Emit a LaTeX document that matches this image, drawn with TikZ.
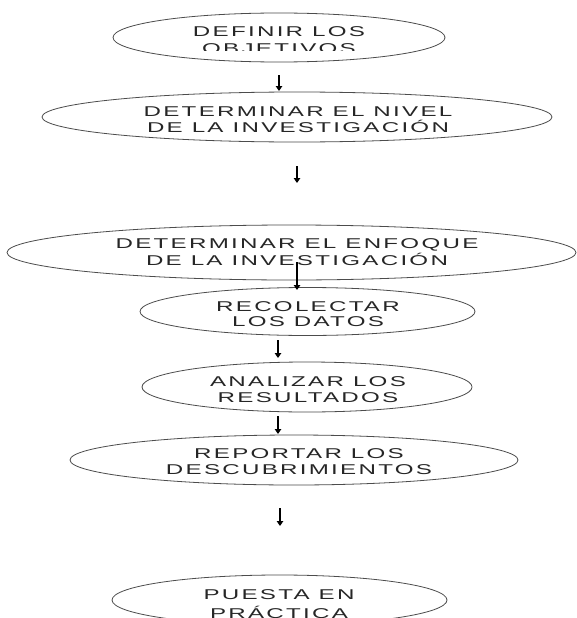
\documentclass[tikz,border=0pt]{standalone}
\usepackage{fontspec}
\setmainfont[FakeStretch=1.7,LetterSpace=16]{Liberation Sans}
\usetikzlibrary{arrows.meta,shapes.geometric}

\begin{document}
\begin{tikzpicture}[x=1pt,y=-1pt,
  stepellipse/.style={draw=black!70, line width=0.8pt, ellipse, inner sep=0pt},
  steptext/.style={align=center, text=black!85, inner sep=0pt,
    font=\fontsize{14.2}{15.5}\selectfont},
  flow/.style={draw=black, line width=1.2pt, -{Triangle[length=5pt,width=6.5pt]}}]
\useasboundingbox (0,0) rectangle (577,618);
\clip (0,0) rectangle (577,618);
\fill[white] (0,0) rectangle (577,618);

% process steps
\node[stepellipse, minimum width=332pt, minimum height=49pt] (e1) at (279,37.5) {};
\node[stepellipse, minimum width=510pt, minimum height=50pt] (e2) at (297,117) {};
\node[stepellipse, minimum width=569pt, minimum height=55pt] (e3) at (291.5,252.5) {};
\node[stepellipse, minimum width=335pt, minimum height=48pt] (e4) at (307.5,311.5) {};
\node[stepellipse, minimum width=330pt, minimum height=50pt] (e5) at (307,387) {};
\node[stepellipse, minimum width=448pt, minimum height=50pt] (e6) at (294,460) {};
\node[stepellipse, minimum width=335pt, minimum height=50pt] (e7) at (279.5,600) {};

% labels (the first one is cut off by its text frame)
\begin{scope}
  \clip (0,0) rectangle (577,51);
  \node[steptext, font=\fontsize{14.2}{17}\selectfont] (t1) at (279,40) {DEFINIR LOS\\OBJETIVOS};
\end{scope}
\node[steptext] (t2) at (298,119.5) {DETERMINAR EL NIVEL\\DE LA INVESTIGACIÓN};
\node[steptext, font=\fontsize{14.2}{17}\selectfont] (t3) at (297,252) {DETERMINAR EL ENFOQUE\\DE LA INVESTIGACIÓN};
\node[steptext] (t4) at (308,314) {RECOLECTAR\\LOS DATOS};
\node[steptext] (t5) at (308,389.5) {ANALIZAR LOS\\RESULTADOS};
\node[steptext] (t6) at (299,461.5) {REPORTAR LOS\\DESCUBRIMIENTOS};
\node[steptext, font=\fontsize{14.2}{19}\selectfont] (t7) at (279,604) {PUESTA EN\\PRÁCTICA};

% arrows between the steps
\coordinate (a1s) at (279,75);  \coordinate (a1e) at (279,91);
\coordinate (a2s) at (297,166); \coordinate (a2e) at (297,183);
\coordinate (a3s) at (297,262); \coordinate (a3e) at (297,290);
\coordinate (a4s) at (278,340); \coordinate (a4e) at (278,358);
\coordinate (a5s) at (278,416); \coordinate (a5e) at (278,434);
\coordinate (a6s) at (280,508); \coordinate (a6e) at (280,526);
\draw[flow] (a1s) -- (a1e);
\draw[flow] (a2s) -- (a2e);
\draw[flow] (a3s) -- (a3e);
\draw[flow] (a4s) -- (a4e);
\draw[flow] (a5s) -- (a5e);
\draw[flow] (a6s) -- (a6e);
\end{tikzpicture}
\end{document}
